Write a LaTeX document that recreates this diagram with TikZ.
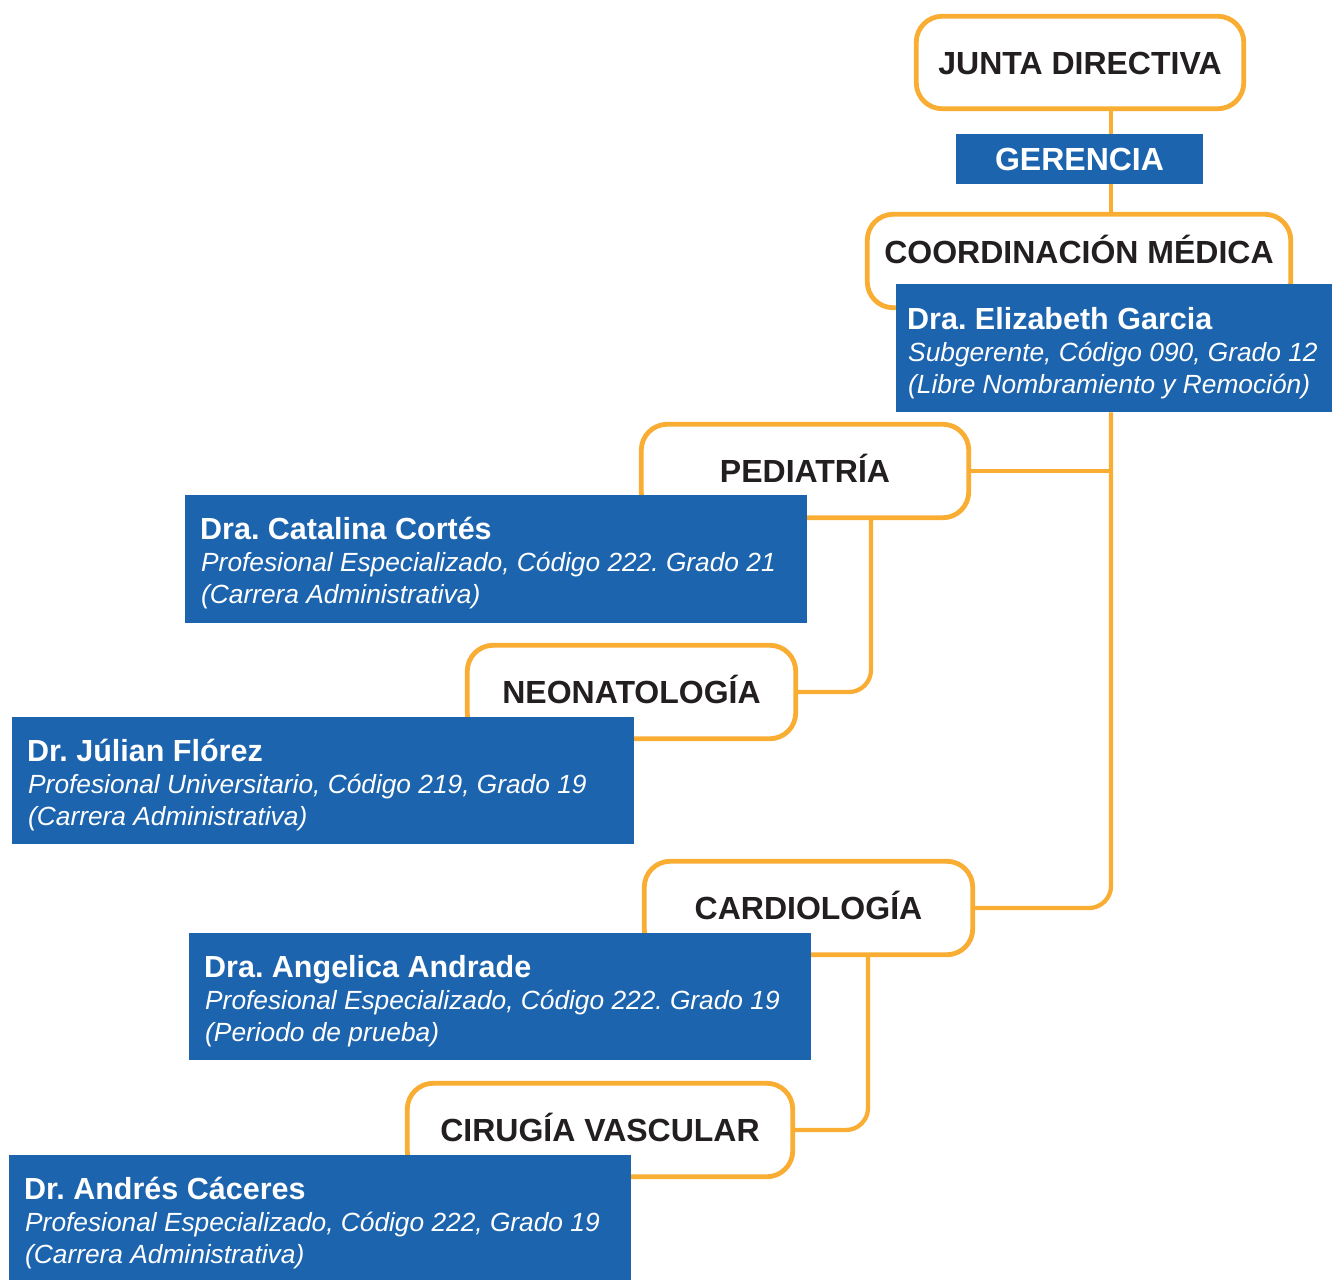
\documentclass[tikz,border=0pt]{standalone}
\usepackage{fontspec}
\setmainfont{Liberation Sans}
\usetikzlibrary{backgrounds,calc}
\definecolor{orgline}{RGB}{249,173,51}
\definecolor{boxblue}{RGB}{29,100,174}
\definecolor{darktext}{RGB}{35,31,32}
\frenchspacing
\tikzset{
  dept/.style={draw=orgline, line width=4.8pt, fill=white, rounded corners=26pt, inner sep=0pt,
    font=\fontsize{32}{32}\selectfont\bfseries, text=darktext, text height=23pt, text depth=0pt},
  bluebox/.style={fill=boxblue, inner sep=0pt, anchor=north west, minimum height=128pt},
  who/.style={anchor=base west, inner sep=0pt, text=white, font=\fontsize{30.5}{32}\selectfont\bfseries},
  post/.style={anchor=base west, inner sep=0pt, text=white, font=\fontsize{26.3}{32}\selectfont\itshape},
  conn/.style={draw=orgline, line width=4.3pt, rounded corners=22pt}
}
\begin{document}
\begin{tikzpicture}[x=1pt,y=-1pt]
\useasboundingbox (0,0) rectangle (1332,1280);
\coordinate (trunk) at (1111,0);
\coordinate (pedx) at (871,0);
\coordinate (cardx) at (868,0);
% department boxes
\node[dept, minimum width=327.5pt, minimum height=92.5pt] (junta) at (1080,62.5) {JUNTA DIRECTIVA};
\node[dept, minimum width=423.5pt, minimum height=93.5pt, text depth=18pt] (coord) at (1079,261) {COORDINACIÓN MÉDICA};
\node[dept, minimum width=327.5pt, minimum height=93.5pt] (ped) at (805,471) {PEDIATRÍA};
\node[dept, minimum width=328.5pt, minimum height=93.5pt] (neo) at (631.5,692) {NEONATOLOGÍA};
\node[dept, minimum width=328.5pt, minimum height=93.5pt] (cardio) at (808.5,908) {CARDIOLOGÍA};
\node[dept, minimum width=385.5pt, minimum height=93.5pt] (cir) at (600,1130) {CIRUGÍA VASCULAR};
% gerencia
\node[fill=boxblue, inner sep=0pt, minimum width=247pt, minimum height=50pt, text=white,
  font=\fontsize{32}{32}\selectfont\bfseries, text height=23pt, text depth=0pt] (ger) at (1079.5,159) {GERENCIA};
% person boxes
\node[bluebox, minimum width=436pt] (eliz) at (896,284) {};
\node[bluebox, minimum width=622pt] (cat) at (185,495) {};
\node[bluebox, minimum width=622pt, minimum height=127pt] (jul) at (12,717) {};
\node[bluebox, minimum width=622pt, minimum height=127pt] (ang) at (189,933) {};
\node[bluebox, minimum width=622pt, minimum height=125pt] (andr) at (9,1155) {};
% person texts
\node[who] (elizn) at ([shift={(11,45)}]eliz.north west) {Dra. Elizabeth Garcia};
\node[post] (elizp) at ([shift={(12,77)}]eliz.north west) {Subgerente, Código 090, Grado 12};
\node[post] (elizr) at ([shift={(12,109)}]eliz.north west) {(Libre Nombramiento y Remoción)};
\node[who] (catn) at ([shift={(15,44)}]cat.north west) {Dra. Catalina Cortés};
\node[post] (catp) at ([shift={(16,76)}]cat.north west) {Profesional Especializado, Código 222. Grado 21};
\node[post] (catr) at ([shift={(16,108)}]cat.north west) {(Carrera Administrativa)};
\node[who] (juln) at ([shift={(15,44)}]jul.north west) {Dr. Júlian Flórez};
\node[post] (julp) at ([shift={(16,76)}]jul.north west) {Profesional Universitario, Código 219, Grado 19};
\node[post] (julr) at ([shift={(16,108)}]jul.north west) {(Carrera Administrativa)};
\node[who] (angn) at ([shift={(15,44)}]ang.north west) {Dra. Angelica Andrade};
\node[post] (angp) at ([shift={(16,76)}]ang.north west) {Profesional Especializado, Código 222. Grado 19};
\node[post] (angr) at ([shift={(16,108)}]ang.north west) {(Periodo de prueba)};
\node[who] (andn) at ([shift={(15,44)}]andr.north west) {Dr. Andrés Cáceres};
\node[post] (andp) at ([shift={(16,76)}]andr.north west) {Profesional Especializado, Código 222, Grado 19};
\node[post] (andrr) at ([shift={(16,108)}]andr.north west) {(Carrera Administrativa)};
% connectors
\begin{scope}[on background layer]
\draw[conn] (junta.south -| trunk) -- (coord.north -| trunk);
\draw[conn] (eliz.south -| trunk) |- (cardio.east);
\draw[conn] (ped.east) -- (ped.east -| trunk);
\draw[conn] (ped.south -| pedx) |- (neo.east);
\draw[conn] (cardio.south -| cardx) |- (cir.east);
\end{scope}
\end{tikzpicture}
\end{document}
